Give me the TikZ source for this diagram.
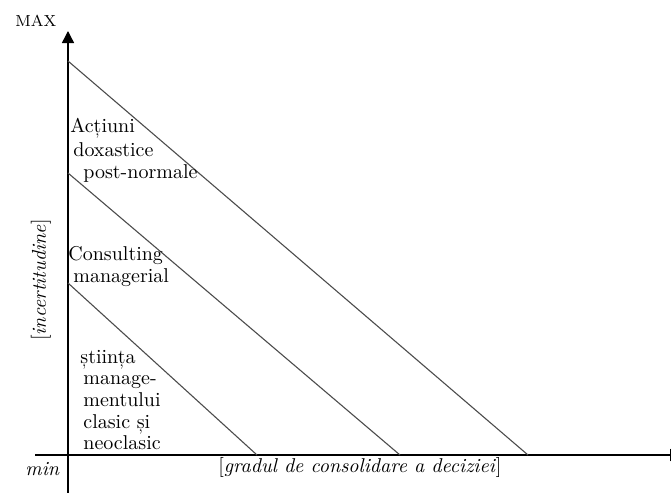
\documentclass[tikz,border=0pt]{standalone}
\usepackage{fontspec}
\usetikzlibrary{arrows.meta}
\begin{document}
\begin{tikzpicture}[x=0.5pt,y=-0.5pt,
  axis/.style={draw=black,line width=0.7pt},
  diag/.style={draw=black!70,line width=0.55pt},
  lbl/.style={anchor=base west,inner sep=0pt,font=\fontsize{10}{11}\selectfont},
]
\useasboundingbox (0,0) rectangle (671,493);
% axes
\coordinate (yb) at (68,493);
\coordinate (yt) at (68,31);
\coordinate (xl) at (35,455);
\coordinate (xr) at (682,455);
\draw[axis,-{Triangle[width=6pt,length=6pt]}] (yb) -- (yt);
\draw[axis,-{Triangle[width=6pt,length=6pt]}] (xl) -- (xr);
% diagonals
\coordinate (a1) at (68,61);  \coordinate (b1) at (528,455);
\coordinate (a2) at (68,173); \coordinate (b2) at (400,455);
\coordinate (a3) at (68,283); \coordinate (b3) at (257,455);
\draw[diag] (a1) -- (b1);
\draw[diag] (a2) -- (b2);
\draw[diag] (a3) -- (b3);
% labels
\node[lbl,font=\fontsize{8}{9}\selectfont] (max) at (15,26) {MAX};
\node[lbl,font=\fontsize{10}{11}\selectfont\itshape] (min) at (25,475) {min};
\node[lbl] (gr) at (218,472) {[\textit{gradul de consolidare a deciziei}]};
\node[inner sep=0pt,rotate=90,font=\fontsize{10}{11}\selectfont] (inc) at (41,280) {[\textit{incertitudine}]};
\node[lbl] (t1) at (70,132) {Acțiuni};
\node[lbl] (t2) at (73,156) {doxastice};
\node[lbl] (t3) at (83,178) {post-normale};
\node[lbl] (t4) at (68,260) {Consulting};
\node[lbl] (t5) at (73,282) {managerial};
\node[lbl] (t6) at (80,363) {știința};
\node[lbl] (t7) at (83,384) {manage-};
\node[lbl] (t8) at (83,406) {mentului};
\node[lbl] (t9) at (83,428) {clasic și};
\node[lbl] (t10) at (83,449) {neoclasic};
\end{tikzpicture}
\end{document}
